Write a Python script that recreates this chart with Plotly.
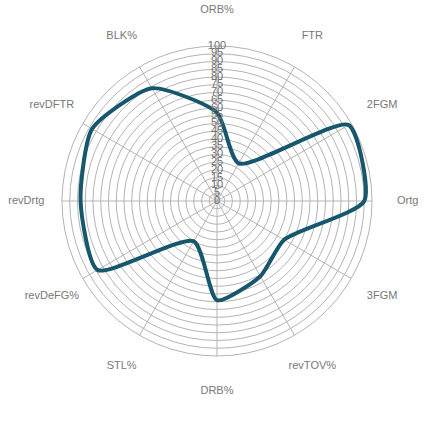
import plotly.graph_objects as go

categories = ["ORB%", "FTR", "2FGM", "Ortg", "3FGM", "revTOV%", "DRB%",
              "STL%", "revDeFG%", "revDrtg", "revDFTR", "BLK%"]
values = [57, 28, 98, 95, 50, 56, 64, 30, 89, 88, 93, 84]
radial_ticks = list(range(0, 101, 5))
label_radius = 123
radial_max = 124.5

FONT = "Liberation Sans, Arial, sans-serif"
GRID = "#b3b3b3"

fig = go.Figure()

# spokes from the centre to the 100 ring
for cat in categories:
    fig.add_trace(go.Scatterpolar(
        r=[0, radial_ticks[-1]],
        theta=[cat, cat],
        mode="lines",
        line=dict(color=GRID, width=1),
        hoverinfo="skip",
        showlegend=False,
    ))

fig.add_trace(go.Scatterpolar(
    r=values + values[:1],
    theta=categories + categories[:1],
    mode="lines",
    line=dict(color="#17576e", width=4, shape="spline", smoothing=0.6),
    hoverinfo="skip",
    showlegend=False,
))
fig.add_trace(go.Scatterpolar(
    r=radial_ticks,
    theta=[categories[0]] * len(radial_ticks),
    mode="text",
    text=[str(t) for t in radial_ticks],
    textposition="middle center",
    textfont=dict(family=FONT, size=11, color="#6f6f6f"),
    hoverinfo="skip",
    showlegend=False,
))
fig.add_trace(go.Scatterpolar(
    r=[label_radius] * len(categories),
    theta=categories,
    mode="text",
    text=categories,
    textposition="middle center",
    textfont=dict(family=FONT, size=11, color="#777777"),
    cliponaxis=False,
    hoverinfo="skip",
    showlegend=False,
))

fig.update_layout(
    width=440, height=440,
    margin=dict(l=24, r=30, t=8, b=46, autoexpand=False),
    paper_bgcolor="white",
    plot_bgcolor="white",
    font=dict(family=FONT, size=11, color="#777777"),
    polar=dict(
        bgcolor="rgba(0,0,0,0)",
        domain=dict(x=[0, 1], y=[0, 1]),
        radialaxis=dict(
            range=[0, radial_max],
            tickvals=radial_ticks,
            showticklabels=False,
            ticks="",
            showline=False,
            gridcolor=GRID,
            gridwidth=1,
            angle=90,
        ),
        angularaxis=dict(
            direction="clockwise",
            rotation=90,
            categoryorder="array",
            categoryarray=categories,
            showticklabels=False,
            ticks="",
            showline=False,
            showgrid=False,
        ),
    ),
)

fig.write_html("out.html", config={"displayModeBar": False},
               post_script="document.body.style.margin='0';")
